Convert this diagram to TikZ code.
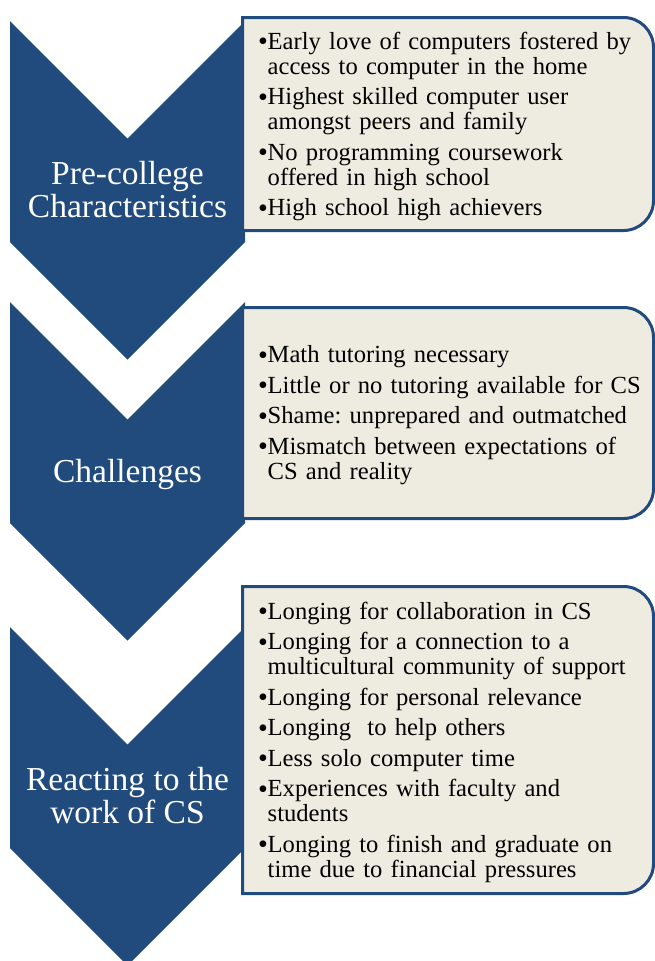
\documentclass[tikz,border=0pt]{standalone}
\usepackage{fontspec}
\setmainfont{Liberation Serif}

\definecolor{chevblue}{RGB}{33,74,125}
\definecolor{listbg}{HTML}{EEECE1}

% one bullet line with hanging indent
\newcommand{\bitem}[1]{\hangindent=9pt\hangafter=1\noindent
  \makebox[9pt][l]{\hspace{-0.5pt}\raisebox{-1.5pt}{\fontsize{28}{28}\selectfont\textbullet}}#1\par}
% list frame: left x, top y, right x, bottom y (round on the right side)
\newcommand{\listframe}[4]{%
  \filldraw[listbox] (#1,-#2) -- (#3-30,-#2) arc[start angle=90,end angle=0,radius=30]
    -- (#3,-#4+30) arc[start angle=0,end angle=-90,radius=30] -- (#1,-#4) -- cycle;}

\tikzset{
  chevron/.style={fill=chevblue},
  chevlabel/.style={text=white, align=center, inner sep=0pt, font=\fontsize{33.5}{33}\selectfont},
  listbox/.style={draw=chevblue, fill=listbg, line width=3pt},
  listtext/.style={anchor=west, inner sep=0pt, text width=395pt, align=left,
    font=\fontsize{24.6}{25}\selectfont\frenchspacing\setlength{\parskip}{5.5pt}},
}

\begin{document}
\begin{tikzpicture}[x=1pt,y=1pt]
\useasboundingbox (0,0) rectangle (655,-961);

% chevrons
\foreach \ytop in {21,302,627} {
  \fill[chevron] (10,-\ytop) -- (127.5,-\ytop-117.5) -- (245,-\ytop)
    -- (245,-\ytop-221) -- (127.5,-\ytop-338.5) -- (10,-\ytop-221) -- cycle;
}

\node[chevlabel] (prechar) at (127.5,-190) {Pre-college\\Characteristics};
\node[chevlabel] (challenges) at (127.5,-474) {Challenges};
\node[chevlabel] (reacting) at (127.5,-796) {Reacting to the\\work of CS};

% lists
\listframe{242.5}{17.5}{653.5}{230.5}
\listframe{242.5}{307.5}{653.5}{518.5}
\listframe{242.5}{586.5}{653.5}{893.5}

\node[listtext] (prelist) at (258.5,-126.5) {%
  \bitem{Early love of computers fostered by\newline access to computer in the home}
  \bitem{Highest skilled computer user\newline amongst peers and family}
  \bitem{No programming coursework\newline offered in high school}
  \bitem{High school high achievers}};

\node[listtext] (challist) at (258.5,-415) {%
  \bitem{Math tutoring necessary}
  \bitem{Little or no tutoring available for CS}
  \bitem{Shame: unprepared and outmatched}
  \bitem{Mismatch between expectations of\newline CS and reality}};

\node[listtext] (reactlist) at (258.5,-742) {%
  \bitem{Longing for collaboration in CS}
  \bitem{Longing for a connection to a\newline multicultural community of support}
  \bitem{Longing for personal relevance}
  \bitem{Longing\ \ to help others}
  \bitem{Less solo computer time}
  \bitem{Experiences with faculty and\newline students}
  \bitem{Longing to finish and graduate on\newline time due to financial pressures}};
\end{tikzpicture}
\end{document}
